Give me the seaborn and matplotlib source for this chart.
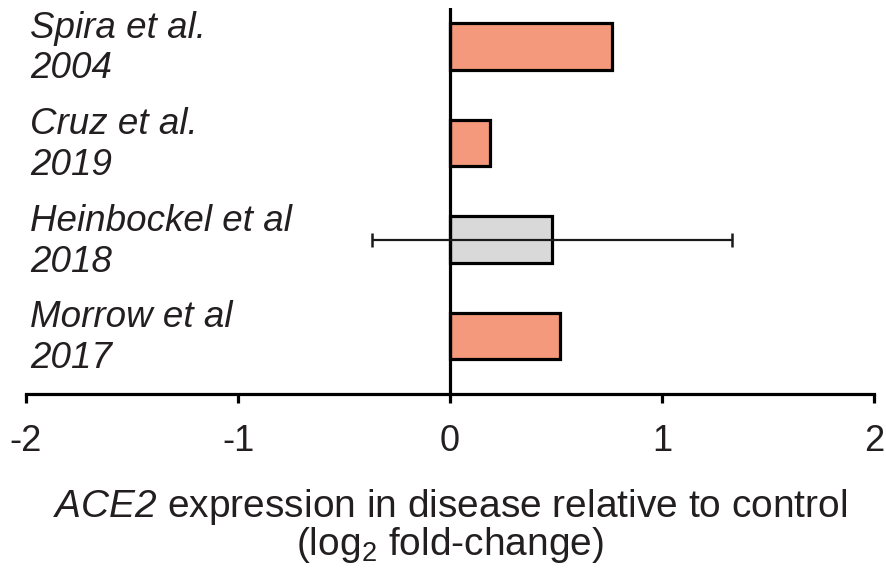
import matplotlib
matplotlib.use("Agg")
import matplotlib.pyplot as plt
import matplotlib.transforms as mtransforms
import seaborn as sns
import pandas as pd

studies = ["Spira et al.\n2004", "Cruz et al.\n2019", "Heinbockel et al\n2018", "Morrow et al\n2017"]
values = [0.765, 0.19, 0.48, 0.52]
errors = [0.0, 0.0, 0.85, 0.0]
colors = ["#F4997B", "#F4997B", "#D9D9D9", "#F4997B"]
xticks = [-2, -1, 0, 1, 2]
xtick_labels = ["-2", "-1", "0", "1", "2"]

sns.set_theme(style="white")
plt.rcParams["font.family"] = ["Liberation Sans", "DejaVu Sans"]
plt.rcParams["mathtext.fontset"] = "custom"
plt.rcParams["mathtext.rm"] = "Liberation Sans"
plt.rcParams["mathtext.it"] = "Liberation Sans:italic"
plt.rcParams["mathtext.bf"] = "Liberation Sans:italic"

df = pd.DataFrame({"study": studies, "value": values})

fig = plt.figure(figsize=(8.86, 5.72), dpi=100)
ax = fig.add_axes([26 / 886, 1 - 394 / 572, 848 / 886, 386 / 572])

sns.barplot(data=df, x="value", y="study", hue="study", palette=colors, legend=False,
            orient="h", width=0.48, edgecolor="black", linewidth=2.3, ax=ax, errorbar=None,
            saturation=1)

for i, (v, e) in enumerate(zip(values, errors)):
    if e > 0:
        ax.errorbar(v, i, xerr=e, fmt="none", ecolor="#1a1a1a", elinewidth=1.6,
                    capsize=5, capthick=1.8, zorder=5)

ax.axvline(0, color="black", lw=2.3, zorder=4)
ax.set_xlim(-2, 2)
ax.set_ylim(3.6, -0.4)

for s in ["top", "right", "left"]:
    ax.spines[s].set_visible(False)
ax.spines["bottom"].set_linewidth(2.3)
ax.spines["bottom"].set_color("black")

ax.set_xticks(xticks)
ax.set_xticklabels(xtick_labels)
ax.tick_params(axis="x", direction="out", length=6.5, width=2.3, color="black",
               labelsize=26, pad=15, labelcolor="#231f20", bottom=True)
ax.set_yticks([])
ax.set_ylabel("")

trans = mtransforms.blended_transform_factory(fig.transFigure, ax.transData)
for i, lab in enumerate(studies):
    ax.text(30 / 886, i + 0.02, lab, transform=trans, ha="left", va="center",
            fontsize=26.5, fontstyle="italic", color="#231f20", linespacing=1.22)

ax.set_xlabel(r"$\mathbf{ACE2}$ expression in disease relative to control" + "\n" +
              r"(log$_2$ fold-change)", fontsize=28, color="#231f20",
              labelpad=20, linespacing=0.95)

fig.savefig("out.png", dpi=100)
